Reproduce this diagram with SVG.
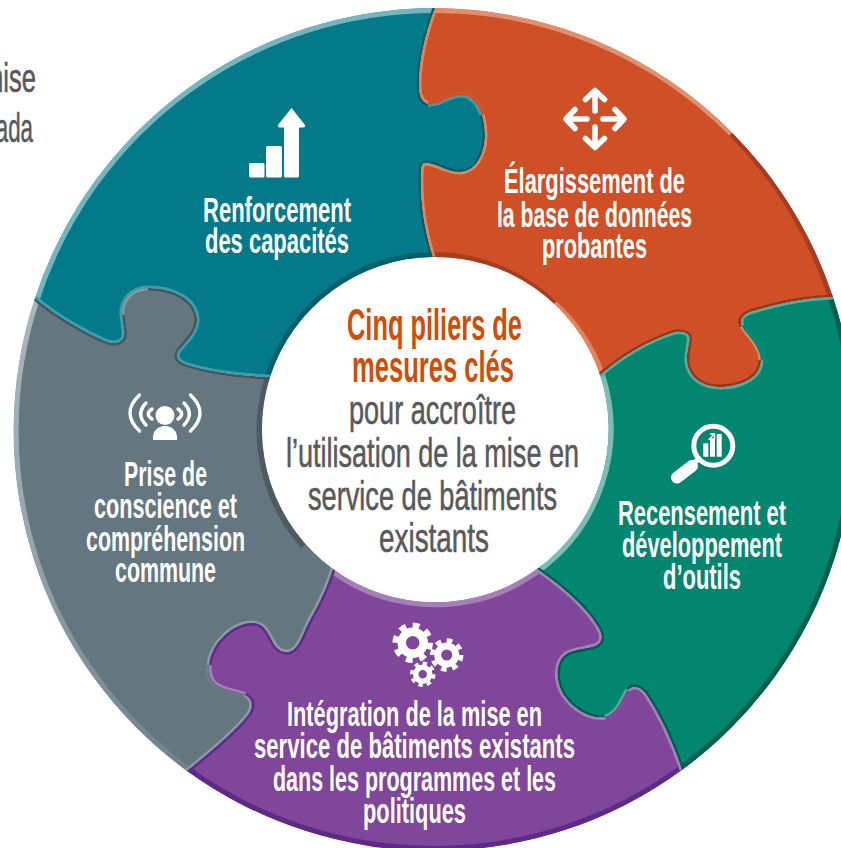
<svg xmlns="http://www.w3.org/2000/svg" width="841" height="848" viewBox="0 0 841 848">
<style>
text{font-family:"Liberation Sans Narrow","Liberation Sans",sans-serif}
.w{fill:#fff;font-size:35.500px;font-weight:700}
.g{fill:#58595b;font-size:41px;stroke:#58595b;stroke-width:.6}
.o{fill:#cf4d06;font-size:45px;font-weight:700}
.rim{fill:none;stroke-width:10}
.seam{fill:none;stroke-width:5}
.ic{fill:none;stroke:#fff;stroke-linecap:round;stroke-linejoin:round}
</style>
<defs>
<linearGradient id="grayRim" gradientUnits="userSpaceOnUse" x1="0" y1="298" x2="0" y2="771"><stop offset="0" stop-color="#aab6bc"/><stop offset=".5" stop-color="#97a6ad"/><stop offset="1" stop-color="#6f818a"/></linearGradient>
<path id="sA" d="M435,8 C425,35 419,60 419,85 C419,95 421,101 428,104 C440,106 447,95 462,95 C477,96 485,115 485,135 C485,155 475,172 460,172 C445,172 435,162 424,163 C420,165 421,175 421,190 C422,215 427,238 433,257"/>
<path id="sA2" d="M428,104 C440,106 447,95 462,95 C472,96 478,104 482,115"/>
<path id="sB" d="M270,377 C240,376 205,371 185,364 C176,360 175,355 180,349 C188,340 198,330 197,318 C195,300 175,288 148,288 C130,288 121,302 122,315 C123,325 125,332 124,336 C122,343 115,344 108,342 C85,333 55,315 35,298"/>
<path id="sC" d="M833,297 C805,298 775,304 750,312 C742,315 739,320 742,326 C747,335 760,345 761,360 C761,378 740,387 720,387 C703,387 689,378 687,362 C686,350 691,340 689,336 C686,331 678,331 672,333 C645,342 620,358 600,375"/>
<path id="sC2" d="M742,326 C747,335 760,345 761,360"/>
<path id="sD" d="M682,770 C674,745 660,715 648,697 C642,687 634,684 628,690 C622,697 620,712 605,717 C590,720 572,708 563,694 C555,680 555,662 566,654 C575,648 590,649 597,645 C603,641 603,635 598,627 C585,605 560,585 537,569"/>
<path id="sD2" d="M628,690 C622,697 620,712 605,717"/>
<path id="sE" d="M187,771 C210,752 235,732 248,715 C254,707 253,699 245,695 C235,690 218,690 212,680 C205,670 210,650 222,638 C232,627 250,618 262,626 C272,634 272,650 285,652 C298,654 302,635 310,620 C320,603 328,585 333,569"/>
<path id="sE2" d="M245,695 C235,690 218,690 212,680 C209,675 209,670 209,665"/>
<path id="pTeal" d="M35,298 A421,421 0 0 1 435,8 C425,35 419,60 419,85 C419,95 421,101 428,104 C440,106 447,95 462,95 C477,96 485,115 485,135 C485,155 475,172 460,172 C445,172 435,162 424,163 C420,165 421,175 421,190 C422,215 427,238 433,257 A173,173 0 0 0 270,377 C240,376 205,371 185,364 C176,360 175,355 180,349 C188,340 198,330 197,318 C195,300 175,288 148,288 C130,288 121,302 122,315 C123,325 125,332 124,336 C122,343 115,344 108,342 C85,333 55,315 35,298Z"/>
<path id="pOrange" d="M435,8 A421,421 0 0 1 833,297 C805,298 775,304 750,312 C742,315 739,320 742,326 C747,335 760,345 761,360 C761,378 740,387 720,387 C703,387 689,378 687,362 C686,350 691,340 689,336 C686,331 678,331 672,333 C645,342 620,358 600,375 A173,173 0 0 0 433,257 C427,238 422,215 421,190 C421,175 420,165 424,163 C435,162 445,172 460,172 C475,172 485,155 485,135 C485,115 477,96 462,95 C447,95 440,106 428,104 C421,101 419,95 419,85 C419,60 425,35 435,8Z"/>
<path id="pGreen" d="M833,297 A421,421 0 0 1 682,770 C674,745 660,715 648,697 C642,687 634,684 628,690 C622,697 620,712 605,717 C590,720 572,708 563,694 C555,680 555,662 566,654 C575,648 590,649 597,645 C603,641 603,635 598,627 C585,605 560,585 537,569 A173,173 0 0 0 600,375 C620,358 645,342 672,333 C678,331 686,331 689,336 C691,340 686,350 687,362 C689,378 703,387 720,387 C740,387 761,378 761,360 C760,345 747,335 742,326 C739,320 742,315 750,312 C775,304 805,298 833,297Z"/>
<path id="pPurple" d="M682,770 A421,421 0 0 1 187,771 C210,752 235,732 248,715 C254,707 253,699 245,695 C235,690 218,690 212,680 C205,670 210,650 222,638 C232,627 250,618 262,626 C272,634 272,650 285,652 C298,654 302,635 310,620 C320,603 328,585 333,569 A173,173 0 0 0 537,569 C560,585 585,605 598,627 C603,635 603,641 597,645 C590,649 575,648 566,654 C555,662 555,680 563,694 C572,708 590,720 605,717 C620,712 622,697 628,690 C634,684 642,687 648,697 C660,715 674,745 682,770Z"/>
<path id="pGray" d="M187,771 A421,421 0 0 1 35,298 C55,315 85,333 108,342 C115,344 122,343 124,336 C125,332 123,325 122,315 C121,302 130,288 148,288 C175,288 195,300 197,318 C198,330 188,340 180,349 C175,355 176,360 185,364 C205,371 240,376 270,377 A173,173 0 0 0 333,569 C328,585 320,603 310,620 C302,635 298,654 285,652 C272,650 272,634 262,626 C250,618 232,627 222,638 C210,650 205,670 212,680 C218,690 235,690 245,695 C253,699 254,707 248,715 C235,732 210,752 187,771Z"/>
<clipPath id="cTeal"><use href="#pTeal"/></clipPath>
<clipPath id="cOrange"><use href="#pOrange"/></clipPath>
<clipPath id="cGreen"><use href="#pGreen"/></clipPath>
<clipPath id="cPurple"><use href="#pPurple"/></clipPath>
<clipPath id="cGray"><use href="#pGray"/></clipPath>
</defs>
<rect width="841" height="848" fill="#fff"/>
<g id="cut-off-text">
<text class="g" x="-18" y="92" textLength="54" lengthAdjust="spacingAndGlyphs">mise</text>
<text class="g" x="-45" y="142" textLength="78" lengthAdjust="spacingAndGlyphs">Canada</text>
</g>

<g id="piece-gray">
<g clip-path="url(#cGray)">
<use href="#pGray" fill="#64767f"/>
<path class="rim" stroke="url(#grayRim)" d="M187,771 A421,421 0 0 1 35,298"/>
<path class="rim" stroke="#4c5b64" d="M270,377 A173,173 0 0 0 305,545"/>
<path class="rim" stroke="#64767f" d="M305,545 A173,173 0 0 0 333,569"/>
<use href="#sB" class="seam" stroke="#46545c"/>
<use href="#sE" class="seam" stroke="#8c9ba3"/>
<use href="#sE2" class="seam" stroke="#64767f"/>
<path class="seam" stroke="#8c9ba3" d="M122,315 C121,302 130,288 148,288"/>
</g>
<g class="ic" stroke-width="3.400">
<path d="M139.500,395 Q120.500,413 139.500,431M146,403 Q135.400,414 146,425M152,409 Q144.600,414 152,419"/>
<path d="M190.500,395 Q209.500,413 190.500,431M184,403 Q194.600,414 184,425M178,409 Q185.400,414 178,419"/>
</g>
<circle cx="165" cy="415.500" r="9.500" fill="#fff"/>
<path d="M153,440 C152,431 158,426 165,426 C172,426 178,431 177,440Z" fill="#fff"/>
<text class="w" x="124" y="486" textLength="83" lengthAdjust="spacingAndGlyphs">Prise de</text>
<text class="w" x="94" y="518" textLength="143" lengthAdjust="spacingAndGlyphs">conscience et</text>
<text class="w" x="86" y="551" textLength="159" lengthAdjust="spacingAndGlyphs">compréhension</text>
<text class="w" x="115" y="582" textLength="101" lengthAdjust="spacingAndGlyphs">commune</text>
</g>

<g id="piece-teal">
<g clip-path="url(#cTeal)">
<use href="#pTeal" fill="#027a8a"/>
<path class="rim" stroke="#74b5bf" d="M35,298 A421,421 0 0 1 435,8"/>
<path class="rim" stroke="#015f6c" d="M433,257 A173,173 0 0 0 270,377"/>
<use href="#sA" class="seam" stroke="#015f6c"/>
<use href="#sA2" class="seam" stroke="#3f9dab"/>
<use href="#sB" class="seam" stroke="#3f9dab"/>
</g>
<rect x="249" y="163" width="15.500" height="14.500" rx="1.500" fill="#fff"/>
<rect x="266" y="146" width="16" height="31.500" rx="1.500" fill="#fff"/>
<path d="M291.500,108 L305,125 Q305.500,127.500 303,127.500 L299,127.500 L299,176 Q299,177.500 297.500,177.500 L285.500,177.500 Q284,177.500 284,176 L284,127.500 L280,127.500 Q277.500,127.500 278,125Z" fill="#fff"/>
<text class="w" x="203" y="222" textLength="148" lengthAdjust="spacingAndGlyphs">Renforcement</text>
<text class="w" x="205" y="253" textLength="144" lengthAdjust="spacingAndGlyphs">des capacités</text>
</g>

<g id="piece-orange">
<g clip-path="url(#cOrange)">
<use href="#pOrange" fill="#cf4f27"/>
<path class="rim" stroke="#e38f6c" d="M435,8 A421,421 0 0 1 733,132"/>
<path class="rim" stroke="#a63d20" d="M733,132 A421,421 0 0 1 833,297"/>
<path class="rim" stroke="#a63d20" d="M433,257 A173,173 0 0 1 553,305"/>
<path class="rim" stroke="#e0855f" d="M553,305 A173,173 0 0 1 600,375"/>
<use href="#sA" class="seam" stroke="#e0855f"/>
<use href="#sA2" class="seam" stroke="#cf4f27"/>
<use href="#sC" class="seam" stroke="#963619"/>
<use href="#sC2" class="seam" stroke="#e0855f"/>
</g>
<g class="ic" stroke-width="5.500">
<path d="M595,111V91M585.500,99.500L595,90.500L604.500,99.500"/>
<path d="M595,127V147M585.500,138.500L595,147.500L604.500,138.500"/>
<path d="M587,119H566.500M575,109.500L566,119L575,128.500"/>
<path d="M603,119H623.500M615,109.500L624,119L615,128.500"/>
</g>
<text class="w" x="504" y="193" textLength="181" lengthAdjust="spacingAndGlyphs">Élargissement de</text>
<text class="w" x="497" y="227" textLength="195" lengthAdjust="spacingAndGlyphs">la base de données</text>
<text class="w" x="542" y="258" textLength="105" lengthAdjust="spacingAndGlyphs">probantes</text>
</g>

<g id="piece-green">
<g clip-path="url(#cGreen)">
<use href="#pGreen" fill="#03866f"/>
<path class="rim" stroke="#02604f" d="M833,297 A421,421 0 0 1 682,770"/>
<path class="rim" stroke="#7cbdb0" d="M537,569 A173,173 0 0 0 600,375"/>
<use href="#sC" class="seam" stroke="#55ab9b"/>
<use href="#sC2" class="seam" stroke="#03866f"/>
<use href="#sD" class="seam" stroke="#025c4d"/>
<use href="#sD2" class="seam" stroke="#55ab9b"/>
</g>
<circle cx="713.300" cy="445.700" r="19.500" fill="none" stroke="#fff" stroke-width="5"/>
<path class="ic" stroke-width="5" d="M699,459L691,465"/>
<path class="ic" stroke-width="12" d="M692,466L677,477.500"/>
<g fill="#fff">
<rect x="703.300" y="443.300" width="5" height="13.400"/>
<rect x="710" y="438.300" width="5" height="18.400"/>
<rect x="716.700" y="434" width="5" height="22.700"/>
</g>
<path class="ic" stroke-width="1.400" d="M709,439.500L714,434.500M710.500,434H714.500V438"/>
<text class="w" x="618" y="525" textLength="168" lengthAdjust="spacingAndGlyphs">Recensement et</text>
<text class="w" x="622" y="557" textLength="160" lengthAdjust="spacingAndGlyphs">développement</text>
<text class="w" x="663" y="589" textLength="78" lengthAdjust="spacingAndGlyphs">d’outils</text>
</g>

<g id="piece-purple">
<g clip-path="url(#cPurple)">
<use href="#pPurple" fill="#7f4699"/>
<path class="rim" stroke="#5c2b88" d="M682,770 A421,421 0 0 1 187,771"/>
<path class="rim" stroke="#a67fb9" d="M333,569 A173,173 0 0 0 537,569"/>
<use href="#sD" class="seam" stroke="#a67fb9"/>
<use href="#sD2" class="seam" stroke="#7f4699"/>
<use href="#sE" class="seam" stroke="#5d2b8a"/>
<use href="#sE2" class="seam" stroke="#a67fb9"/>
</g>
<g fill="none" stroke="#fff">
<circle cx="446.700" cy="655" r="9" stroke-width="7"/>
<circle cx="446.700" cy="655" r="14.500" stroke-width="4.500" pathLength="16" stroke-dasharray="1 1"/>
</g>
<circle cx="422.700" cy="674.300" r="13.500" fill="#7f4699"/>
<g fill="none" stroke="#fff">
<circle cx="422.700" cy="674.300" r="7" stroke-width="5.500"/>
<circle cx="422.700" cy="674.300" r="11" stroke-width="3.500" pathLength="16" stroke-dasharray="1 1"/>
</g>
<circle cx="412.700" cy="642.700" r="20" fill="#7f4699"/>
<g fill="none" stroke="#fff">
<circle cx="412.700" cy="642.700" r="11" stroke-width="8.500"/>
<circle cx="412.700" cy="642.700" r="17.500" stroke-width="5.500" pathLength="16" stroke-dasharray="1 1"/>
</g>
<text class="w" x="287" y="726" textLength="255" lengthAdjust="spacingAndGlyphs">Intégration de la mise en</text>
<text class="w" x="254" y="758" textLength="321" lengthAdjust="spacingAndGlyphs">service de bâtiments existants</text>
<text class="w" x="273" y="791" textLength="283" lengthAdjust="spacingAndGlyphs">dans les programmes et les</text>
<text class="w" x="363" y="823" textLength="103" lengthAdjust="spacingAndGlyphs">politiques</text>
</g>

<g id="center">
<text class="o" x="347" y="340" textLength="175" lengthAdjust="spacingAndGlyphs">Cinq piliers de</text>
<text class="o" x="352" y="382" textLength="162" lengthAdjust="spacingAndGlyphs">mesures clés</text>
<text class="g" x="349" y="424" textLength="167" lengthAdjust="spacingAndGlyphs">pour accroître</text>
<text class="g" x="286" y="467" textLength="293" lengthAdjust="spacingAndGlyphs">l’utilisation de la mise en</text>
<text class="g" x="308" y="510" textLength="249" lengthAdjust="spacingAndGlyphs">service de bâtiments</text>
<text class="g" x="379" y="552" textLength="110" lengthAdjust="spacingAndGlyphs">existants</text>
</g>
</svg>
